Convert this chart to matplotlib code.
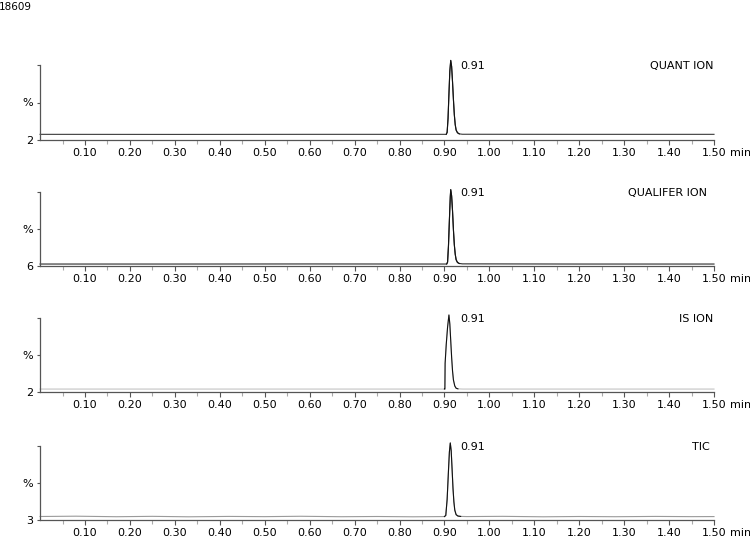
import numpy as np
import matplotlib
matplotlib.use("Agg")
import matplotlib.pyplot as plt

# sample id shown top-left
sample_id = "18609"

# one entry per trace panel
titles = ["QUANT ION", "QUALIFER ION", "IS ION", "TIC"]
y_min_labels = [2, 6, 2, 3]
peak_labels = ["0.91", "0.91", "0.91", "0.91"]
x_ticks = [0.10, 0.20, 0.30, 0.40, 0.50, 0.60, 0.70, 0.80, 0.90, 1.00, 1.10, 1.20, 1.30, 1.40, 1.50]

# chromatograms (time in min, intensity in %)
t_quant = [0.0, 0.30, 0.60, 0.904, 0.906, 0.908, 0.910, 0.912, 0.914, 0.916, 0.918,
           0.920, 0.922, 0.924, 0.926, 0.929, 0.933, 0.940, 1.20, 1.50]
y_quant = [9.4, 9.3, 9.4, 9.4, 12, 30, 62, 92, 106, 98, 78,
           55, 35, 22, 15, 11.5, 10.0, 9.5, 9.4, 9.4]

t_qual = [0.0, 0.30, 0.60, 0.905, 0.907, 0.909, 0.911, 0.913, 0.914, 0.916, 0.918,
          0.920, 0.922, 0.924, 0.926, 0.929, 0.933, 0.940, 1.20, 1.50]
y_qual = [8.5, 8.5, 8.6, 8.5, 11, 32, 64, 94, 103, 95, 76,
          52, 33, 21, 14, 10.5, 9.2, 8.7, 8.5, 8.5]

t_is = [0.0, 0.30, 0.60, 0.900, 0.901, 0.9015, 0.904, 0.907, 0.910, 0.912, 0.914,
        0.916, 0.918, 0.920, 0.923, 0.926, 0.930, 0.940, 1.20, 1.50]
y_is = [5.9, 5.9, 5.9, 5.9, 5.9, 40, 65, 88, 104, 92, 70,
        48, 30, 18, 10, 7.0, 6.2, 5.9, 5.9, 5.9]

t_tic = [0.0, 0.08, 0.17, 0.25, 0.33, 0.42, 0.50, 0.58, 0.67, 0.75, 0.83, 0.900,
         0.903, 0.906, 0.909, 0.911, 0.913, 0.915, 0.917, 0.919, 0.921, 0.923, 0.926,
         0.930, 0.936, 0.95, 1.03, 1.12, 1.20, 1.28, 1.37, 1.45, 1.50]
y_tic = [7.6, 8.0, 7.3, 7.8, 7.2, 7.7, 7.4, 7.9, 7.3, 7.6, 7.2, 7.5,
         9, 30, 68, 92, 104, 94, 70, 45, 27, 16, 10,
         8.2, 7.7, 7.5, 7.8, 7.2, 7.6, 7.3, 7.7, 7.4, 7.5]

traces = [(t_quant, y_quant), (t_qual, y_qual), (t_is, y_is), (t_tic, y_tic)]
base_colors = ["#3a3a3a", "#2a2a2a", "#c4c4c4", "#9a9a9a"]

# layout in pixels: (top of 100 %, x axis)
W, H = 750, 539
panels_px = [(65, 140), (192, 266), (318, 392), (446, 520)]
x0_px, x1_px = 40.1, 714.0
title_right = [1.500, 1.484, 1.498, 1.491]

plt.rcParams["font.family"] = ["DejaVu Sans"]
fig = plt.figure(figsize=(W / 100, H / 100), dpi=100)
fig.text(-0.002, 1 - 6.5 / H, sample_id, ha="left", va="center", fontsize=7.5)

axcol = "#555555"
for i, (tt, yy) in enumerate(traces):
    top, bot = panels_px[i]
    ax = fig.add_axes([x0_px / W, (H - bot) / H, (x1_px - x0_px) / W, (bot - top) / H])
    ymin = y_min_labels[i]
    ax.set_xlim(0, 1.5)
    ax.set_ylim(ymin, 100)

    tt = np.array(tt)
    yy = np.array(yy)
    ax.plot(tt, yy, color=base_colors[i], lw=0.8, clip_on=False)
    pk = (tt >= 0.899) & (tt <= 0.936)
    ax.plot(tt[pk], yy[pk], color="#111111", lw=0.8, clip_on=False)

    for s in ["top", "right"]:
        ax.spines[s].set_visible(False)
    for s in ["left", "bottom"]:
        ax.spines[s].set_color(axcol)
        ax.spines[s].set_linewidth(0.9)

    ax.set_xticks(x_ticks)
    ax.set_xticklabels(["%.2f" % v for v in x_ticks])
    ax.set_xticks(np.arange(0.05, 1.5, 0.1), minor=True)
    ax.tick_params(axis="x", which="major", length=3.6, width=0.8, color=axcol,
                   pad=2.5, labelsize=8)
    ax.tick_params(axis="x", which="minor", length=3.0, width=0.8, color="#aaaaaa")
    ax.set_yticks([ymin, (ymin + 100) / 2, 100])
    ax.set_yticklabels([str(ymin), "%", ""])
    ax.tick_params(axis="y", length=2.2, width=0.8, color=axcol, pad=3, labelsize=8)

    # unit after the last tick label
    ax.annotate("min", xy=(1.5, 0), xycoords=("data", "axes fraction"),
                xytext=(11.2, -(3.6 + 2.5)), textcoords="offset points",
                ha="left", va="top", fontsize=8, annotation_clip=False)
    ax.text(0.936, 99, peak_labels[i], ha="left", va="center", fontsize=8)
    ax.text(title_right[i], 99, titles[i], ha="right", va="center", fontsize=8)

fig.savefig("out.png", dpi=100)
